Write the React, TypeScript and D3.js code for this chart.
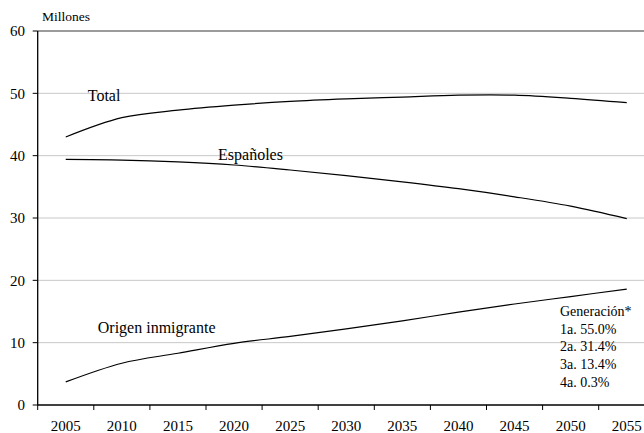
import React from "react";
import * as d3 from "d3";

const years = ["2005","2010","2015","2020","2025","2030","2035","2040","2045","2050","2055"];
const total = [43.0, 46.1, 47.3, 48.1, 48.7, 49.1, 49.4, 49.7, 49.7, 49.2, 48.5];
const espanoles = [39.4, 39.3, 39.0, 38.5, 37.7, 36.8, 35.8, 34.7, 33.4, 31.9, 29.9];
const origen = [3.7, 6.7, 8.3, 9.9, 11.0, 12.2, 13.5, 14.9, 16.2, 17.4, 18.6];
const yTicks = [0, 10, 20, 30, 40, 50, 60];
const seriesLabels = [
  { text: "Total", year: "2005", value: 48.8, dx: 22 },
  { text: "Españoles", year: "2020", value: 39.3, dx: -16 },
  { text: "Origen inmigrante", year: "2005", value: 11.6, dx: 32 },
];
const generacion = ["Generación*", "1a. 55.0%", "2a. 31.4%", "3a. 13.4%", "4a. 0.3%"];

const W = 644, H = 433;
const left = 37.7, top = 31, bottom = 405;
const band = 56.1;

export default function App() {
  const x = d3.scaleBand<string>().domain(years).range([left, left + band * years.length]).padding(0);
  const y = d3.scaleLinear().domain([0, 60]).range([bottom, top]);
  const cx = (yr: string) => (x(yr) as number) + x.bandwidth() / 2;
  const line = d3.line<number>()
    .x((_, i) => cx(years[i]))
    .y((v) => y(v))
    .curve(d3.curveCatmullRom.alpha(0.5));
  const xEnd = left + band * years.length;
  const tf = { fontFamily: "Liberation Serif" };
  return (
    <svg width={W} height={H} style={{ position: "absolute", left: 0, top: 0, background: "#fff" }}>
      {yTicks.filter((t) => t > 0 && t < 60).map((t) => (
        <line key={"g" + t} x1={left} x2={xEnd} y1={y(t)} y2={y(t)} stroke="#c8c8c8" strokeWidth={1} />
      ))}
      <line x1={left} x2={xEnd} y1={y(60)} y2={y(60)} stroke="#7a7a7a" strokeWidth={1.6} />
      {[total, espanoles, origen].map((s, i) => (
        <path key={"s" + i} d={line(s) || ""} fill="none" stroke="#000" strokeWidth={1.2} />
      ))}
      <line x1={left} x2={left} y1={top} y2={bottom} stroke="#000" strokeWidth={1.3} />
      <line x1={left} x2={xEnd} y1={bottom} y2={bottom} stroke="#000" strokeWidth={1.3} />
      {yTicks.map((t) => (
        <g key={"yt" + t}>
          <line x1={left - 5} x2={left} y1={y(t)} y2={y(t)} stroke="#000" strokeWidth={1} />
          <text x={25} y={y(t)} dy="0.35em" textAnchor="end" fontSize={15} fill="#000" style={tf}>{t}</text>
        </g>
      ))}
      {years.map((yr) => (
        <line key={"xt" + yr} x1={(x(yr) as number)} x2={(x(yr) as number)} y1={bottom} y2={bottom + 5} stroke="#000" strokeWidth={1} />
      ))}
      <line x1={xEnd} x2={xEnd} y1={bottom} y2={bottom + 5} stroke="#000" strokeWidth={1} />
      {years.map((yr) => (
        <text key={"xl" + yr} x={cx(yr)} y={431} textAnchor="middle" fontSize={15} fill="#000" style={tf}>{yr}</text>
      ))}
      <text x={42} y={20.5} fontSize={13.5} fill="#000" style={tf}>Millones</text>
      {seriesLabels.map((l) => (
        <text key={l.text} x={cx(l.year) + l.dx} y={y(l.value)} fontSize={16} fill="#000" style={tf}>{l.text}</text>
      ))}
      {generacion.map((g, i) => (
        <text key={g} x={560} y={316 + i * 17.7} fontSize={14} fill="#000" style={tf}>{g}</text>
      ))}
    </svg>
  );
}
